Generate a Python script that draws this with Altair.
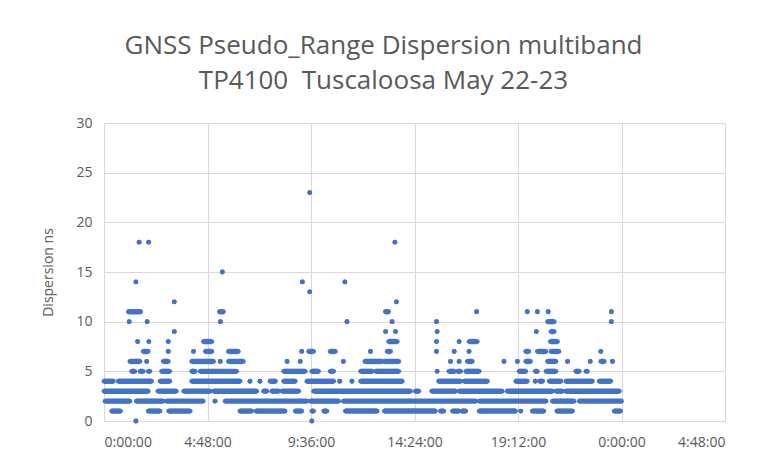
import altair as alt
import pandas as pd

# Each entry is [start_hour, end_hour] of a run of consecutive samples at
# that level (a single sample has start == end). Hours since 0:00:00 May 22.
disp_0 = [[1.48, 1.48], [9.64, 9.64]]
disp_1 = [[0.35, 0.77], [2.05, 2.6], [3.0, 4.0], [6.3, 6.85], [7.05, 8.4],
          [8.87, 9.17], [9.64, 9.72], [10.19, 10.34], [11.19, 12.67],
          [13.0, 15.37], [15.6, 15.76], [16.16, 16.47], [16.6, 16.78],
          [17.4, 19.09], [19.33, 19.33], [19.86, 20.4], [21.0, 21.73],
          [23.66, 23.96]]
disp_2 = [[0.05, 1.2], [1.5, 2.75], [2.9, 4.6], [5.15, 5.15], [5.62, 9.41],
          [9.57, 10.88], [11.1, 17.24], [17.4, 20.5], [20.8, 21.8],
          [22.04, 24.0]]
disp_3 = [[0.0, 2.05], [2.5, 3.35], [3.7, 4.92], [5.08, 7.08], [7.4, 7.55],
          [7.78, 8.1], [8.26, 9.03], [9.72, 14.21], [14.44, 14.6],
          [15.2, 16.31], [16.47, 18.47], [18.7, 20.8], [20.96, 21.26],
          [21.42, 23.9]]
disp_4 = [[0.0, 0.43], [0.66, 2.2], [2.6, 3.05], [4.07, 6.31], [6.77, 6.77],
          [7.23, 7.23], [7.7, 7.95], [8.33, 8.87], [9.41, 10.65],
          [10.93, 10.93], [11.5, 11.5], [11.9, 13.83], [15.52, 16.54],
          [16.7, 17.78], [19.1, 19.63], [20.0, 20.0], [20.2, 20.34],
          [20.65, 21.19], [21.42, 22.65], [22.97, 23.5]]
disp_5 = [[1.28, 1.43], [1.67, 1.82], [2.05, 2.13], [2.67, 3.05], [4.07, 4.23],
          [4.46, 6.15], [8.33, 9.33], [9.64, 9.95], [10.49, 10.65],
          [11.9, 12.44], [12.6, 13.67], [15.45, 15.45], [16.0, 16.25],
          [16.4, 16.54], [16.78, 17.4], [19.25, 19.56], [20.0, 20.1],
          [20.5, 20.96], [21.88, 22.04], [22.35, 22.42]]
disp_6 = [[1.2, 1.67], [1.98, 1.98], [2.75, 2.98], [4.07, 5.08], [5.39, 5.39],
          [5.77, 6.46], [8.49, 8.49], [9.1, 9.1], [11.1, 11.1], [12.1, 12.9],
          [13.0, 13.67], [16.07, 16.07], [16.47, 16.47], [16.85, 17.08],
          [18.55, 18.55], [19.17, 19.17], [19.56, 19.78], [20.57, 20.96],
          [21.5, 21.5], [22.55, 22.55], [23.04, 23.2], [23.58, 23.58]]
disp_7 = [[1.82, 2.05], [2.98, 2.98], [4.15, 4.15], [4.7, 5.0], [5.77, 6.23],
          [9.17, 9.17], [9.49, 9.72], [10.49, 10.73], [12.36, 12.36],
          [13.13, 13.29], [15.42, 15.42], [16.24, 16.24], [16.93, 16.93],
          [19.56, 19.7], [20.1, 20.49], [20.73, 21.1], [23.04, 23.04]]
disp_8 = [[1.56, 1.56], [2.08, 2.08], [2.98, 2.98], [4.61, 5.0], [13.2, 13.6],
          [15.42, 15.42], [16.47, 16.47], [16.93, 17.31], [20.7, 21.03]]
disp_9 = [[3.26, 3.26], [13.06, 13.06], [13.52, 13.52], [15.45, 15.45],
          [20.05, 20.05], [20.73, 20.88]]
disp_10 = [[1.17, 1.17], [2.0, 2.0], [5.4, 5.4], [11.27, 11.27],
           [13.36, 13.36], [15.42, 15.42], [20.57, 20.88], [23.53, 23.53]]
disp_11 = [[1.13, 1.7], [5.35, 5.54], [13.05, 13.2], [17.28, 17.28],
           [19.63, 19.63], [20.1, 20.1], [20.6, 20.6], [23.53, 23.53]]
disp_12 = [[3.26, 3.26], [13.56, 13.56]]
disp_13 = [[9.54, 9.54]]
disp_14 = [[1.48, 1.48], [9.2, 9.2], [11.17, 11.17]]
disp_15 = [[5.49, 5.49]]
disp_18 = [[1.63, 1.63], [2.07, 2.07], [13.49, 13.49]]
disp_23 = [[9.54, 9.54]]

levels = {0: disp_0, 1: disp_1, 2: disp_2, 3: disp_3, 4: disp_4, 5: disp_5,
          6: disp_6, 7: disp_7, 8: disp_8, 9: disp_9, 10: disp_10,
          11: disp_11, 12: disp_12, 13: disp_13, 14: disp_14, 15: disp_15,
          18: disp_18, 23: disp_23}

x_tick_values = [0, 4.8, 9.6, 14.4, 19.2, 24.0, 28.8]
x_tick_labels = ["0:00:00", "4:48:00", "9:36:00", "14:24:00", "19:12:00",
                 "0:00:00", "4:48:00"]
y_tick_values = [0, 5, 10, 15, 20, 25, 30]

title_lines = ["GNSS Pseudo_Range Dispersion multiband",
               "TP4100\u00a0 Tuscaloosa May 22-23"]
y_title = "Dispersion ns"

rows = []
for lvl, runs in levels.items():
    for s, e in runs:
        rows.append({"level": lvl, "start": s, "end": e})
df = pd.DataFrame(rows)

BLUE = "#4472C4"
GRAY_TXT = "#595959"
GRID = "#D9D9D9"
FONT = "Open Sans"

label_js = "[" + ",".join("'" + l + "'" for l in x_tick_labels) + "]"

x_scale = alt.Scale(domain=[0, 28.8], nice=False, zero=False)
y_scale = alt.Scale(domain=[0, 30], nice=False)

x_axis = alt.Axis(values=x_tick_values,
                  labelExpr=label_js + "[round(datum.value/4.8)]",
                  title=None, grid=True, ticks=False, domain=True,
                  labelPadding=14, labelFontSize=14, labelColor=GRAY_TXT,
                  labelFont=FONT, gridColor=GRID, domainColor=GRID)
y_axis = alt.Axis(values=y_tick_values, title=y_title, grid=True, ticks=False,
                  domain=False, labelPadding=12, titlePadding=20,
                  labelFontSize=14, labelColor=GRAY_TXT, labelFont=FONT,
                  titleFont=FONT, titleFontSize=14, titleColor=GRAY_TXT,
                  titleFontWeight="normal", gridColor=GRID)

base = alt.Chart(df)

rules = base.mark_rule(color=BLUE, strokeWidth=5.4, strokeCap="butt").encode(
    x=alt.X("start:Q", scale=x_scale, axis=x_axis),
    x2="end:Q",
    y=alt.Y("level:Q", scale=y_scale, axis=y_axis),
)
starts = base.mark_circle(color=BLUE, size=23, opacity=1).encode(
    x=alt.X("start:Q", scale=x_scale), y=alt.Y("level:Q", scale=y_scale))
ends = base.mark_circle(color=BLUE, size=23, opacity=1).encode(
    x=alt.X("end:Q", scale=x_scale), y=alt.Y("level:Q", scale=y_scale))

chart = alt.layer(rules, starts, ends).properties(
    width=621,
    height=298,
    background="white",
    title=alt.TitleParams(text=title_lines, anchor="middle", dx=-31,
                          fontSize=26, font=FONT, color=GRAY_TXT,
                          fontWeight="normal", lineHeight=35, offset=22),
    autosize=alt.AutoSizeParams(type="none"),
    padding={"left": 96, "top": 115, "right": 33, "bottom": 30},
).configure_view(stroke=None)

chart.save("out.html", embed_options={"renderer": "svg", "actions": False})
